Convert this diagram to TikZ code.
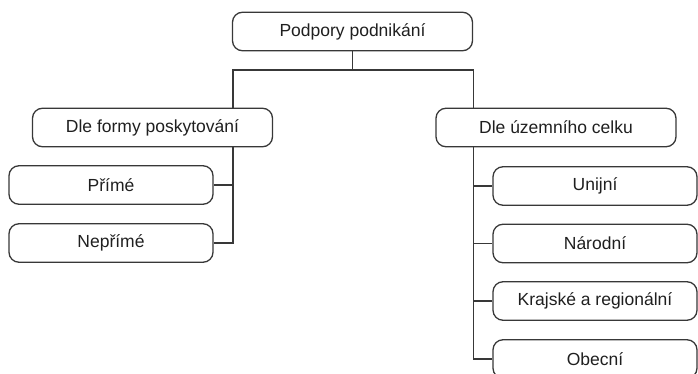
\documentclass[tikz,border=0pt]{standalone}
\usepackage{fontspec}
\setmainfont{Liberation Sans}
\begin{document}
\begin{tikzpicture}[x=1pt,y=-1pt,
  conn/.style={draw=black!78, line width=1.3pt},
  item/.style={draw=black!78, line width=1.3pt, rounded corners=10pt,
    minimum height=38.5pt, inner sep=0pt, text=black!88,
    font=\fontsize{17.5}{20}\selectfont},
  wide/.style={item, minimum width=240pt},
  leaf/.style={item, minimum width=204pt}]
\useasboundingbox (0,0) rectangle (698,374);

% root and the two main branches
\node[wide] (root) at (352.5,31.5) {Podpory podnikání};
\node[wide] (forma) at (152.5,127.5) {Dle formy poskytování};
\node[wide] (uzemi) at (556,127.5) {Dle územního celku};

% leaves of the left branch
\node[leaf] (prime) at (111,185) {Přímé};
\node[leaf] (neprime) at (111,243) {Nepřímé};

% leaves of the right branch
\node[leaf] (unijni) at (595,186) {Unijní};
\node[leaf] (narodni) at (595,243.5) {Národní};
\node[leaf] (krajske) at (595,301) {Krajské a regionální};
\node[leaf] (obecni) at (595,359) {Obecní};

% bus below the root
\coordinate (bus) at (352.5,70);
\coordinate (lx) at (233,0);
\coordinate (rx) at (473.5,0);

\draw[conn] (root.south) -- (root.south |- bus);
\draw[conn] (lx |- forma.north) -- (lx |- bus) -- (rx |- bus) -- (rx |- uzemi.north);

% left branch
\draw[conn] (lx |- forma.south) -- (lx |- neprime.east) -- (neprime.east);
\draw[conn] (lx |- prime.east) -- (prime.east);

% right branch
\draw[conn] (rx |- uzemi.south) -- (rx |- obecni.west) -- (obecni.west);
\draw[conn] (rx |- unijni.west) -- (unijni.west);
\draw[conn] (rx |- narodni.west) -- (narodni.west);
\draw[conn] (rx |- krajske.west) -- (krajske.west);
\end{tikzpicture}
\end{document}
